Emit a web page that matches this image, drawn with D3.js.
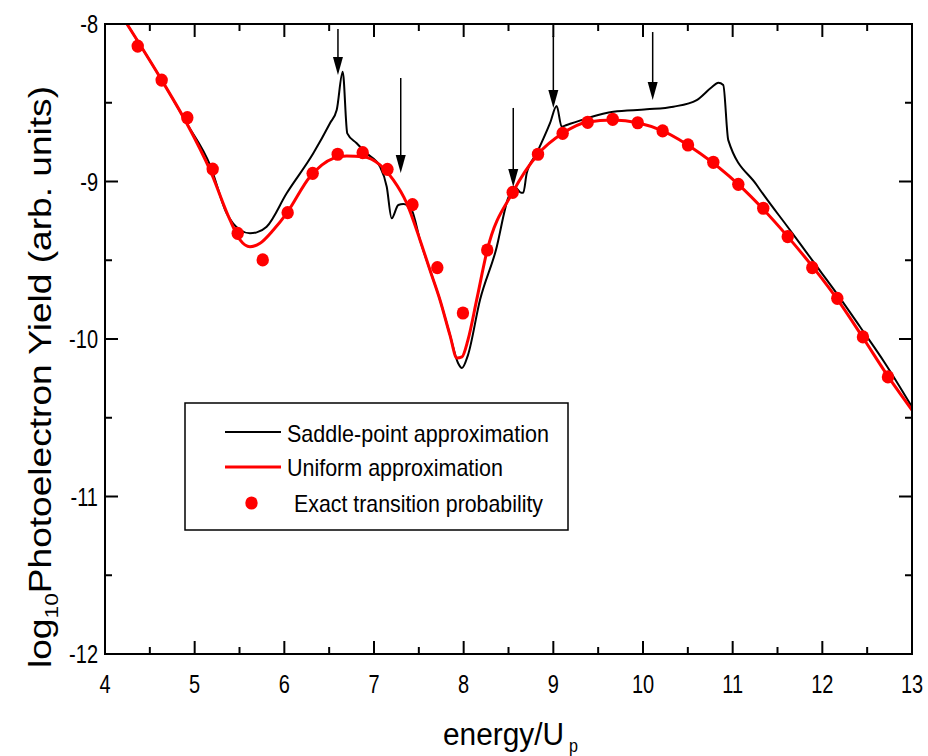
<!DOCTYPE html>
<html>
<head>
<meta charset="utf-8">
<script src="https://cdn.jsdelivr.net/npm/d3@7"></script>
<style>
  html, body { margin: 0; padding: 0; background: #fff; }
  text { font-family: "Liberation Sans", Arial, sans-serif; fill: #000; }
</style>
</head>
<body>
<svg id="chart" width="928" height="756"></svg>
<script>
// ---------- data ----------
const exactX = [4.365, 4.632, 4.918, 5.201, 5.480, 5.759, 6.037, 6.316, 6.595, 6.874, 7.150, 7.429, 7.706, 7.992, 8.263, 8.547, 8.829, 9.104, 9.383, 9.662, 9.941, 10.219, 10.502, 10.784, 11.063, 11.341, 11.614, 11.888, 12.167, 12.453, 12.732];
const exactY = [-8.140, -8.356, -8.595, -8.921, -9.329, -9.498, -9.198, -8.948, -8.827, -8.817, -8.923, -9.147, -9.547, -9.835, -9.435, -9.069, -8.827, -8.694, -8.624, -8.605, -8.627, -8.679, -8.768, -8.878, -9.018, -9.170, -9.350, -9.547, -9.742, -9.987, -10.241];

const uniformX = [4.245, 4.632, 4.911, 5.171, 5.394, 5.506, 5.617, 5.729, 5.877, 6.026, 6.286, 6.546, 6.695, 6.881, 7.067, 7.215, 7.365, 7.513, 7.624, 7.736, 7.847, 7.925, 7.981, 8.048, 8.145, 8.263, 8.547, 8.829, 9.104, 9.372, 9.669, 9.941, 10.219, 10.635, 11.063, 11.614, 12.178, 12.450, 12.735, 13.0];
const uniformY = [-8.000, -8.356, -8.630, -8.927, -9.244, -9.371, -9.414, -9.392, -9.308, -9.202, -8.970, -8.853, -8.838, -8.843, -8.895, -8.990, -9.138, -9.371, -9.562, -9.752, -9.975, -10.121, -10.114, -10.006, -9.752, -9.435, -9.069, -8.827, -8.694, -8.624, -8.610, -8.627, -8.679, -8.821, -9.018, -9.350, -9.757, -9.989, -10.239, -10.451];

const saddleX = [4.245, 4.632, 4.911, 5.171, 5.357, 5.506, 5.617, 5.692, 5.803, 6.026, 6.323, 6.509, 6.584, 6.651, 6.702, 6.807, 6.918, 7.067, 7.142, 7.197, 7.271, 7.327, 7.420, 7.513, 7.624, 7.736, 7.847, 7.937, 7.981, 8.048, 8.182, 8.360, 8.500, 8.580, 8.640, 8.665, 8.703, 8.814, 8.963, 9.037, 9.093, 9.149, 9.372, 9.669, 10.041, 10.338, 10.599, 10.766, 10.840, 10.895, 10.951, 11.268, 11.639, 11.899, 12.160, 12.420, 12.699, 13.0];
const saddleY = [-8.000, -8.356, -8.630, -8.895, -9.202, -9.308, -9.329, -9.323, -9.287, -9.075, -8.821, -8.630, -8.546, -8.303, -8.694, -8.757, -8.821, -8.906, -9.033, -9.234, -9.149, -9.143, -9.181, -9.371, -9.562, -9.752, -9.975, -10.152, -10.184, -10.102, -9.752, -9.435, -9.100, -9.040, -9.071, -9.071, -8.948, -8.821, -8.630, -8.521, -8.652, -8.641, -8.599, -8.557, -8.542, -8.525, -8.483, -8.402, -8.373, -8.387, -8.737, -9.022, -9.308, -9.509, -9.710, -9.922, -10.154, -10.432];

// arrows: x position, top (tail) and tip values
const arrowX   = [6.598, 7.298, 8.553, 9.000, 10.108];
const arrowTop = [-8.032, -8.343, -8.533, -8.076, -8.051];
const arrowTip = [-8.324, -8.946, -9.035, -8.533, -8.483];

const xTicks = [4, 5, 6, 7, 8, 9, 10, 11, 12, 13];
const yTicks = [-8, -9, -10, -11, -12];
const legendLabels = ["Saddle-point approximation", "Uniform approximation", "Exact transition probability"];

// ---------- layout ----------
const svg = d3.select("#chart");
const L = 105, R = 912, T = 24, B = 654;
const x = d3.scaleLinear().domain([4, 13]).range([L, R]);
const y = d3.scaleLinear().domain([-8, -12]).range([T, B]);

svg.append("defs").append("clipPath").attr("id", "clip")
  .append("rect").attr("x", L).attr("y", T).attr("width", R - L).attr("height", B - T);

const plot = svg.append("g").attr("clip-path", "url(#clip)");

const line = d3.line().x(d => x(d[0])).y(d => y(d[1])).curve(d3.curveMonotoneX);

plot.append("path")
  .datum(saddleX.map((v, i) => [v, saddleY[i]]))
  .attr("d", line).attr("fill", "none").attr("stroke", "#000").attr("stroke-width", 2)
  .attr("stroke-linejoin", "round");

plot.append("path")
  .datum(uniformX.map((v, i) => [v, uniformY[i]]))
  .attr("d", line).attr("fill", "none").attr("stroke", "#ff0000").attr("stroke-width", 3)
  .attr("stroke-linejoin", "round");

plot.selectAll("ellipse.exact")
  .data(exactX.map((v, i) => [v, exactY[i]]))
  .join("ellipse").attr("class", "exact")
  .attr("cx", d => x(d[0])).attr("cy", d => y(d[1]))
  .attr("rx", 6.2).attr("ry", 6.6).attr("fill", "#ff0000");

// arrows
const arrows = svg.append("g");
arrowX.forEach((ax, i) => {
  const px = x(ax), y0 = y(arrowTop[i]), y1 = y(arrowTip[i]);
  arrows.append("line").attr("x1", px).attr("x2", px).attr("y1", y0).attr("y2", y1 - 12)
    .attr("stroke", "#000").attr("stroke-width", 1.5);
  arrows.append("path")
    .attr("d", `M${px - 5},${y1 - 18} L${px + 5},${y1 - 18} L${px},${y1} Z`)
    .attr("fill", "#000");
});

// axes
const axG = svg.append("g");
const tickMaj = 13, tickMin = 7;
function addXTicks(yBase, dir) {
  for (let v = 4; v <= 13.001; v += 0.5) {
    const major = Math.abs(v - Math.round(v)) < 1e-6;
    axG.append("line").attr("x1", x(v)).attr("x2", x(v))
      .attr("y1", yBase).attr("y2", yBase + dir * (major ? tickMaj : tickMin))
      .attr("stroke", "#000").attr("stroke-width", 2);
  }
}
function addYTicks(xBase, dir) {
  for (let v = -12; v <= -7.999; v += 0.5) {
    const major = Math.abs(v - Math.round(v)) < 1e-6;
    axG.append("line").attr("y1", y(v)).attr("y2", y(v))
      .attr("x1", xBase).attr("x2", xBase + dir * (major ? tickMaj : tickMin))
      .attr("stroke", "#000").attr("stroke-width", 2);
  }
}
addXTicks(B, -1); addXTicks(T, 1);
addYTicks(L, 1); addYTicks(R, -1);
axG.append("rect").attr("x", L).attr("y", T).attr("width", R - L).attr("height", B - T)
  .attr("fill", "none").attr("stroke", "#000").attr("stroke-width", 2);

// tick labels (condensed)
const sx = 0.8;
svg.append("g").selectAll("text").data(xTicks).join("text")
  .attr("text-anchor", "middle").attr("font-size", 25)
  .attr("transform", d => `translate(${x(d)},693) scale(${sx},1)`)
  .text(d => String(d));

svg.append("g").selectAll("text").data(yTicks).join("text")
  .attr("text-anchor", "end").attr("font-size", 25).attr("dy", "0.36em")
  .attr("transform", d => `translate(98,${y(d)}) scale(${sx},1)`)
  .text(d => String(d));

// axis titles
svg.append("text").attr("x", 443).attr("y", 745).attr("font-size", 31)
  .attr("textLength", 121).attr("lengthAdjust", "spacingAndGlyphs").text("energy/U");
svg.append("text").attr("font-size", 19)
  .attr("transform", "translate(569,752) scale(0.85,1)").text("p");

const yt = svg.append("text")
  .attr("transform", "translate(51,668) rotate(-90)")
  .attr("font-size", 31);
yt.append("tspan").text("log");
yt.append("tspan").attr("font-size", 19).attr("dy", 7).text("10");
yt.append("tspan").attr("dy", -7).text("Photoelectron Yield (arb. units)");
yt.attr("textLength", 582).attr("lengthAdjust", "spacingAndGlyphs");

// legend
const lg = svg.append("g");
lg.append("rect").attr("x", 185).attr("y", 403).attr("width", 383).attr("height", 127)
  .attr("fill", "#fff").attr("stroke", "#000").attr("stroke-width", 1.5);
lg.append("line").attr("x1", 225).attr("x2", 281).attr("y1", 432).attr("y2", 432)
  .attr("stroke", "#000").attr("stroke-width", 2);
lg.append("line").attr("x1", 225).attr("x2", 281).attr("y1", 467).attr("y2", 467)
  .attr("stroke", "#ff0000").attr("stroke-width", 3);
lg.append("ellipse").attr("cx", 251.5).attr("cy", 503).attr("rx", 6.2).attr("ry", 6.6).attr("fill", "#ff0000");
const lgX = [287, 287, 294], lgY = [442, 476, 512], lgW = [262, 216, 249];
legendLabels.forEach((t, i) => {
  lg.append("text").attr("x", lgX[i]).attr("y", lgY[i]).attr("font-size", 24)
    .attr("textLength", lgW[i]).attr("lengthAdjust", "spacingAndGlyphs").text(t);
});
</script>
</body>
</html>
